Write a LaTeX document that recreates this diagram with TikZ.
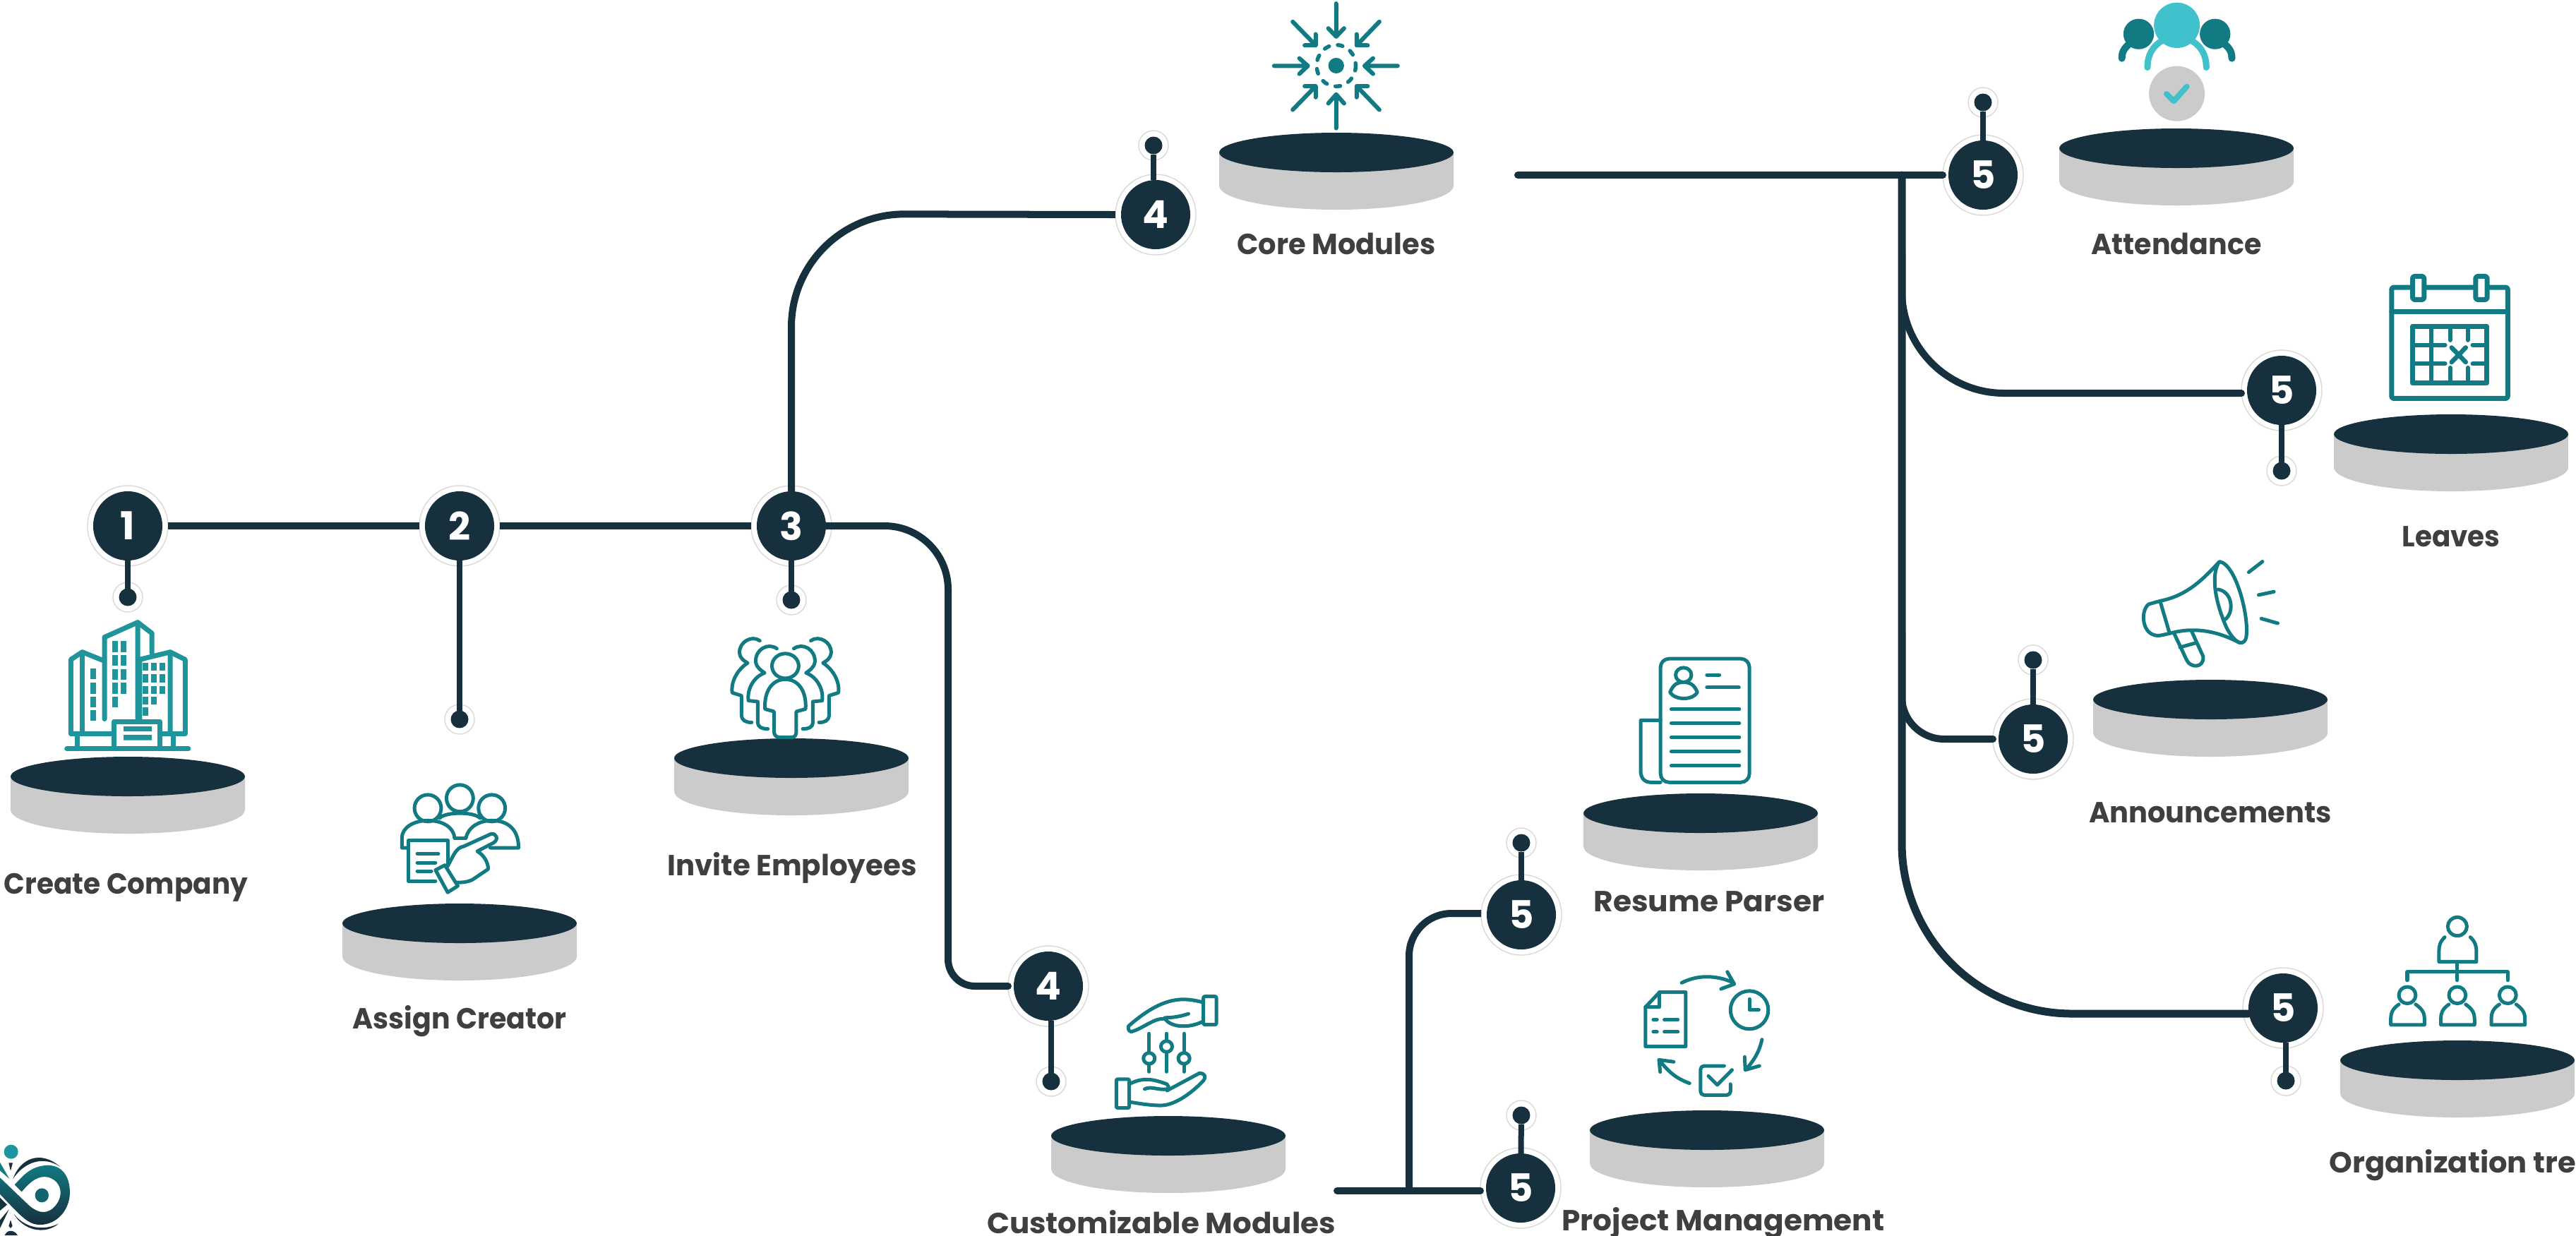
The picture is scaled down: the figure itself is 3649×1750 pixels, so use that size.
\documentclass[tikz,border=0pt]{standalone}
\usepackage{fontspec}
\setmainfont{Poppins}
\usetikzlibrary{calc}
\definecolor{navy}{HTML}{17303E}
\definecolor{discgrey}{HTML}{CBCBCB}
\definecolor{icteal}{HTML}{117A82}
\definecolor{bldteal}{HTML}{1F959B}
\definecolor{lightteal}{HTML}{40C1CB}
\definecolor{txtgrey}{HTML}{3F3F3F}
\newlength{\lblw}
\tikzset{
  zs/.style n args={4}{shift={(#1,#2)},x=0.01cm/#3,y=-0.01cm/#4},
  halo/.style={circle,draw=black!15,line width=0.4pt,fill=white,minimum size=1.14cm,inner sep=0pt,outer sep=0pt},
  dark/.style={circle,fill=navy,text=white,minimum size=0.98cm,inner sep=0pt,outer sep=0pt,font=\fontsize{15.5}{16}\selectfont\bfseries},
  dothalo/.style={circle,draw=black!15,line width=0.4pt,fill=white,minimum size=0.42cm,inner sep=0pt,outer sep=0pt},
  dotc/.style={circle,fill=navy,minimum size=0.25cm,inner sep=0pt,outer sep=0pt},
  conn/.style={draw=navy,line width=0.1cm,line cap=round},
  stem/.style={draw=navy,line width=0.08cm},
  ic/.style={draw=icteal,line width=0.05cm,line cap=round,line join=round},
  lbl/.style={anchor=base,text=txtgrey,inner sep=0pt,font=\fontsize{11.7}{12}\selectfont\bfseries},
}
\newcommand{\badge}[4]{\node[halo] (h#1) at (#2,#3) {};\node[dark] (b#1) at (#2,#3) {#4};}
\newcommand{\dotn}[3]{\node[dothalo] (dh#1) at (#2,#3) {};\node[dotc] (d#1) at (#2,#3) {};}
\newcommand{\disc}[2]{%
  \fill[discgrey] (#1-166,#2) -- (#1-166,#2+47) .. controls (#1-166,#2+66) and (#1-92,#2+81) .. (#1,#2+81) .. controls (#1+92,#2+81) and (#1+166,#2+66) .. (#1+166,#2+47) -- (#1+166,#2) -- cycle;
  \fill[navy] (#1-166,#2) .. controls (#1-166,#2-15) and (#1-92,#2-28) .. (#1,#2-28) .. controls (#1+92,#2-28) and (#1+166,#2-15) .. (#1+166,#2) .. controls (#1+166,#2+15) and (#1+92,#2+28) .. (#1,#2+28) .. controls (#1-92,#2+28) and (#1-166,#2+15) .. (#1-166,#2) -- cycle;}
\newcommand{\lab}[5]{\node[lbl] (#1) at (#2,#3) {\lblw=0.01cm \multiply\lblw by #4 \resizebox{\lblw}{\height}{#5}};}
\newcommand{\invside}{%
\draw[ic] (262,383) .. controls (240,370) and (208,385) .. (210,410) .. controls (212,422) and (225,428) .. (232,432) .. controls (205,440) and (188,465) .. (192,488) -- (215,490) -- (215,532) .. controls (216,542) and (225,545) .. (240,545);
\draw[ic] (220,367) .. controls (200,355) and (168,370) .. (170,392) .. controls (172,404) and (182,408) .. (190,412) .. controls (165,425) and (148,450) .. (152,472) -- (175,478) -- (175,518) .. controls (176,528) and (185,532) .. (200,532);}
\begin{document}
\begin{tikzpicture}[x=0.01cm,y=-0.01cm]
\path[use as bounding box,clip] (0,0) rectangle (3649,1750);
\fill[white] (0,0) rectangle (3649,1750);

% discs
\disc{181}{1100}
\disc{651}{1308}
\disc{1121}{1074}
\disc{1655}{1609}
\disc{1893}{216}
\disc{3083}{210}
\disc{3472}{615}
\disc{3131}{991}
\disc{3481}{1502}
\disc{2409}{1152}
\disc{2418}{1601}

% badges and end dots
\badge{1}{181}{745}{1}
\badge{2}{651}{745}{2}
\badge{3}{1121}{745}{3}
\badge{4b}{1485}{1397}{4}
\badge{4t}{1637}{304}{4}
\badge{5a}{2809}{248}{5}
\badge{5b}{3232}{553}{5}
\badge{5c}{2880}{1047}{5}
\badge{5d}{3234}{1428}{5}
\badge{5e}{2155}{1296}{5}
\badge{5f}{2154}{1683}{5}
\dotn{1}{181}{846}
\dotn{2}{651}{1019}
\dotn{3}{1121}{850}
\dotn{4b}{1489}{1532}
\dotn{4t}{1634}{206}
\dotn{5a}{2809}{145}
\dotn{5b}{3232}{667}
\dotn{5c}{2880}{935}
\dotn{5d}{3238}{1531}
\dotn{5e}{2155}{1194}
\dotn{5f}{2155}{1580}

% stems
\draw[stem] (d1) -- (b1);
\draw[stem] (d2) -- (b2);
\draw[stem] (d3) -- (b3);
\draw[stem] (d4b) -- (d4b |- b4b.south);
\draw[stem] (d4t) -- (d4t |- b4t.north);
\draw[stem] (d5a) -- (b5a);
\draw[stem] (d5b) -- (b5b);
\draw[stem] (d5c) -- (b5c);
\draw[stem] (d5d) -- (d5d |- b5d.south);
\draw[stem] (d5e) -- (b5e);
\draw[stem] (d5f) -- (b5f);

% connectors
\coordinate (k3t) at (1121,303);
\coordinate (k3r) at (1343,745);
\coordinate (k3m) at (1343,1000);
\coordinate (k4b) at (1343,1397);
\coordinate (cs) at (2150,248);
\coordinate (jt) at (2694,248);
\coordinate (jl) at (2694,557);
\coordinate (ja) at (2694,1047);
\coordinate (jo) at (2694,1436);
\coordinate (cm) at (1894,1687);
\coordinate (jm) at (1996,1687);
\coordinate (jr) at (1996,1294);
\draw[conn,line cap=butt] (h1) -- (h2);
\draw[conn,line cap=butt] (h2) -- (h3);
\draw[conn,rounded corners=1.6cm,line cap=butt] (b3.north) -- (k3t) -- (h4t.west);
\draw[conn,rounded corners=0.9cm,line cap=butt] (b3.east) -- (k3r) -- (k3m);
\draw[conn,rounded corners=0.38cm] (k3m) -- (k4b) -- (h4b.west);
\draw[conn] (cs) -- (cs -| h5a.west);
\draw[conn,line width=0.11cm,rounded corners=2.41cm] (jt) -- (jo) -- (jo -| b5d.west);
\draw[conn,rounded corners=1.45cm] ($(jl)+(0,-200)$) -- (jl) -- (jl -| h5b.west);
\draw[conn,rounded corners=0.6cm] ($(ja)+(0,-150)$) -- (ja) -- (ja -| h5c.west);
\draw[conn] (cm) -- (cm -| h5f.west);
\draw[conn,line cap=butt,rounded corners=0.6cm] (jm) -- (jr) -- (jr -| h5e.west);

% labels
\lab{t1}{178.5}{1266}{345}{Create Company}
\lab{t2}{651}{1457}{303}{Assign Creator}
\lab{t3}{1122}{1240}{353}{Invite Employees}
\lab{t4}{1645}{1747}{494}{Customizable Modules}
\lab{t5}{1893}{360}{281}{Core Modules}
\lab{t6}{3083}{360}{241}{Attendance}
\lab{t7}{3472}{774}{139}{Leaves}
\lab{t8}{3131}{1165}{344}{Announcements}
\lab{t9}{2421}{1291}{327}{Resume Parser}
\lab{t10}{2441}{1743}{457}{Project Management}
\node[lbl,anchor=base west] (t11) at (3299,1661) {\resizebox{3.75cm}{\height}{Organization tree}};

% building icon
\begin{scope}[zs={0}{650}{1.742}{1.425}]
\begin{scope}[draw=bldteal,line width=0.07cm,line cap=round,line join=round]
\draw (165,585) -- (465,585);
\draw (258,525) -- (258,360) -- (340,330) -- (340,525);
\draw (340,330) -- (375,352) -- (375,392);
\draw (280,555) -- (175,555) -- (175,405) -- (203,390) -- (255,407);
\draw (203,390) -- (203,555);
\draw (345,525) -- (345,405) -- (420,390) -- (420,555);
\draw (420,390) -- (457,405) -- (457,555) -- (400,555);
\draw (282,582) -- (282,530) -- (395,530) -- (395,582);
\draw (190,560) -- (190,585);
\draw (428,560) -- (428,585);
\end{scope}
\fill[bldteal] (305,540) rectangle (375,550) (305,557) rectangle (375,568);
\foreach \y in {368,396,424,452,480} \fill[bldteal] (277,\y) rectangle +(14,22);
\foreach \y in {368,396,424,452} \fill[bldteal] (298,\y) rectangle +(14,22);
\foreach \y in {423,452,480,507} \fill[bldteal] (223,\y) rectangle +(14,22);
\foreach \y in {412,435,458,480,502} \fill[bldteal] (352,\y) rectangle +(14,16);
\foreach \y in {412,435,458,480} \fill[bldteal] (373,\y) rectangle +(14,16);
\foreach \y in {412,435,458} \fill[bldteal] (394,\y) rectangle +(14,16);
% assign creator icon
\draw[ic] (1135,685) ellipse [x radius=33,y radius=27];
\draw[ic] (1056,705) ellipse [x radius=33,y radius=27];
\draw[ic] (1214,705) ellipse [x radius=33,y radius=27];
\draw[ic] (1005,785) -- (992,785) -- (992,765) .. controls (992,745) and (1020,730) .. (1056,730) .. controls (1095,730) and (1120,745) .. (1122,765);
\draw[ic] (1150,765) .. controls (1155,745) and (1180,730) .. (1214,730) .. controls (1250,730) and (1280,745) .. (1280,785) -- (1210,785);
\draw[ic] (1085,725) .. controls (1100,712) and (1170,712) .. (1185,725);
\draw[ic] (1075,852) -- (1008,852) -- (1008,770) -- (1105,770) -- (1105,820);
\draw[ic] (1030,797) -- (1082,797) (1030,815) -- (1075,815) (1030,832) -- (1065,832);
\draw[ic] (1122,765) -- (1150,765);
\draw[ic] (1105,822) .. controls (1120,800) and (1125,785) .. (1145,782) -- (1212,757) .. controls (1225,755) and (1232,768) .. (1218,775) -- (1178,792) .. controls (1195,800) and (1205,815) .. (1205,828) -- (1165,850) .. controls (1150,855) and (1140,855) .. (1128,855);
\draw[ic] (1075,830) -- (1098,820) -- (1130,862) -- (1105,875) -- cycle;
\end{scope}

% logo
\begin{scope}[zs={0}{1600}{3}{3}]
\fill[bldteal] (47,95) ellipse [x radius=30,y radius=30];
\fill[icteal!70!navy] (178,280) ellipse [x radius=29,y radius=30];
\fill[navy] (37,142) -- (54,142) -- (45,176) -- cycle;
\shade[top color=icteal,bottom color=navy] (62,235) .. controls (100,195) and (130,155) .. (205,152) .. controls (270,155) and (297,205) .. (297,270) .. controls (295,345) and (240,405) .. (170,405) .. controls (120,405) and (90,370) .. (0,275) -- (0,205) -- (115,315) .. controls (150,350) and (190,365) .. (225,335) .. controls (275,290) and (265,220) .. (205,203) .. controls (165,195) and (135,215) .. (92,265) -- cycle;
\fill[navy] (55,210) .. controls (85,125) and (170,85) .. (255,158) .. controls (190,115) and (110,130) .. cycle;
\fill[navy] (0,290) -- (30,320) -- (0,345) -- cycle;
\fill[icteal] (0,140) -- (40,210) -- (0,175) -- cycle;
\fill[navy] (38,340) -- (0,420) -- (0,385) -- cycle;
\fill[navy] (45,385) -- (53,410) -- (45,420) -- (37,410) -- cycle;
\fill[navy] (58,358) .. controls (100,430) and (190,450) .. (250,400) .. controls (190,430) and (110,425) .. cycle;
\fill[navy] (20,450) .. controls (30,425) and (60,425) .. (75,450) -- cycle;
\end{scope}

% invite, customizable icons
\begin{scope}[zs={950}{650}{1.742}{1.425}]
\draw[ic] (283,418) ellipse [x radius=33,y radius=25];
\draw[ic] (283,445) .. controls (250,445) and (230,470) .. (233,505) -- (255,510) -- (255,550) .. controls (256,560) and (262,562) .. (270,562) -- (297,562) .. controls (305,562) and (310,560) .. (310,550) -- (310,510) -- (333,505) .. controls (336,470) and (316,445) .. (283,445);
\invside
\begin{scope}[shift={(566,0)},xscale=-1]\invside\end{scope}
% hands
\draw[ic,rounded corners=0.02cm] (1315,1085) rectangle (1347,1142);
\draw[ic,rounded corners=0.02cm] (1100,1252) rectangle (1132,1310);
\draw[ic] (1315,1097) .. controls (1270,1088) and (1220,1080) .. (1130,1145) .. controls (1128,1155) and (1135,1158) .. (1142,1155) .. controls (1170,1147) and (1195,1128) .. (1220,1130) .. controls (1235,1148) and (1280,1150) .. (1315,1135);
\draw[ic] (1220,1128) .. controls (1240,1128) and (1260,1125) .. (1278,1120);
\draw[ic] (1132,1262) .. controls (1170,1245) and (1200,1255) .. (1225,1262) .. controls (1232,1268) and (1228,1275) .. (1225,1275) -- (1305,1240) .. controls (1320,1240) and (1322,1248) .. (1315,1255) .. controls (1280,1285) and (1240,1305) .. (1210,1305) .. controls (1180,1305) and (1150,1300) .. (1132,1298);
\draw[ic] (1170,1272) .. controls (1185,1265) and (1205,1275) .. (1225,1272);
\foreach \x in {1181,1267}{
\draw[ic] (\x,1160) -- (\x,1198) (\x,1222) -- (\x,1237);
\draw[ic] (\x,1210) ellipse [x radius=14,y radius=11];}
\draw[ic] (1224,1160) -- (1224,1174) (1224,1198) -- (1224,1237);
\draw[ic] (1224,1186) ellipse [x radius=14,y radius=11];
\end{scope}

% core icon
\begin{scope}[zs={1500}{0}{2.24}{2.99}]
\fill[icteal] (880,278) ellipse [x radius=25,y radius=33];
\draw[ic,line width=0.055cm,dash pattern=on 0.07cm off 0.125cm] (880,278) ellipse [x radius=62,y radius=88];
\begin{scope}[ic/.append style={line width=0.06cm}]
\draw[ic] (880,15) -- (880,155) (855,120) -- (880,155) -- (905,120);
\draw[ic] (880,543) -- (880,400) (855,438) -- (880,400) -- (905,438);
\draw[ic] (683,279) -- (785,279) (763,247) -- (790,279) -- (763,313);
\draw[ic] (1075,279) -- (972,279) (997,247) -- (970,279) -- (997,313);
\draw[ic] (742,92) -- (815,192) (815,145) -- (815,192) -- (780,192);
\draw[ic] (1017,92) -- (945,192) (945,145) -- (945,192) -- (980,192);
\draw[ic] (742,465) -- (815,365) (815,412) -- (815,365) -- (780,365);
\draw[ic] (1017,465) -- (945,365) (945,412) -- (945,365) -- (980,365);
\end{scope}
\end{scope}

% resume, project icons
\begin{scope}[zs={2150}{850}{2.24}{1.742}]
\draw[ic,rounded corners=0.12cm] (453,450) -- (453,145) -- (735,145) -- (735,450) -- cycle;
\draw[ic] (453,297) -- (390,297) -- (390,425) .. controls (392,442) and (405,450) .. (420,450) -- (453,450);
\draw[ic] (526,185) ellipse [x radius=25,y radius=18];
\draw[ic] (483,228) .. controls (495,205) and (510,203) .. (526,203) .. controls (545,203) and (560,208) .. (570,228) .. controls (555,248) and (500,248) .. (483,228) -- cycle;
\draw[ic] (600,185) -- (640,185) (600,216) -- (702,216);
\foreach \y in {270,304,339,374,409} \draw[ic] (487,\y) -- (703,\y);
\draw[ic] (405,1005) -- (450,968) -- (533,968) -- (533,1102) -- (405,1102) -- cycle;
\draw[ic] (450,968) -- (450,1005) -- (405,1005);
\draw[ic] (430,1036) -- (442,1036) (465,1036) -- (508,1036) (430,1066) -- (442,1066) (465,1066) -- (508,1066);
\draw[ic] (735,1012) ellipse [x radius=60,y radius=47];
\draw[ic] (735,985) -- (735,1012) -- (765,1012);
\draw[ic,rounded corners=0.05cm] (655,1150) -- (580,1150) -- (580,1222) -- (675,1222) -- (675,1195);
\draw[ic] (605,1175) -- (633,1197) -- (680,1160);
\draw[ic] (520,945) .. controls (570,925) and (630,925) .. (685,945) (665,918) -- (687,948) -- (645,960);
\draw[ic] (775,1085) .. controls (765,1120) and (745,1140) .. (725,1158) (720,1128) -- (722,1160) -- (767,1150);
\draw[ic] (545,1193) .. controls (500,1180) and (480,1165) .. (450,1137) (452,1165) -- (448,1135) -- (495,1140);
\end{scope}

% attendance, calendar icons
\begin{scope}[zs={2800}{0}{1.847}{2.178}]
\draw[icteal,line width=0.1cm,line cap=round] (380,180) .. controls (380,155) and (390,145) .. (405,130);
\draw[icteal,line width=0.1cm,line cap=round] (668,180) .. controls (668,155) and (658,145) .. (643,130);
\fill[icteal] (424,105) ellipse [x radius=40,y radius=47];
\fill[icteal] (624,105) ellipse [x radius=40,y radius=47];
\draw[lightteal,line width=0.09cm,line cap=round] (447,208) .. controls (447,165) and (465,135) .. (495,120);
\draw[lightteal,line width=0.09cm,line cap=round] (601,208) .. controls (601,165) and (583,135) .. (553,120);
\fill[lightteal] (524,78) ellipse [x radius=60,y radius=70];
\fill[discgrey] (524,289) ellipse [x radius=73,y radius=85];
\draw[lightteal,line width=0.08cm,line cap=round,line join=round] (497,290) -- (516,312) -- (550,267);
\draw[ic,line width=0.07cm,rounded corners=0.03cm] (1086,887) rectangle (1390,1230);
\draw[ic,line width=0.07cm] (1086,962) -- (1390,962);
\draw[ic,line width=0.07cm,rounded corners=0.03cm,fill=white] (1141,853) rectangle (1171,925);
\draw[ic,line width=0.07cm,rounded corners=0.03cm,fill=white] (1306,853) rectangle (1336,925);
\draw[ic,line width=0.07cm,line cap=butt] (1141,1007) rectangle (1335,1183);
\draw[ic,line width=0.06cm] (1190,1007) -- (1190,1183);
\draw[ic,line width=0.06cm] (1239,1007) -- (1239,1050) (1239,1135) -- (1239,1183) (1285,1007) -- (1285,1050) (1285,1135) -- (1285,1183);
\draw[ic,line width=0.06cm] (1141,1065) -- (1226,1065) (1298,1065) -- (1335,1065) (1141,1123) -- (1226,1123) (1298,1123) -- (1335,1123);
\draw[ic,line width=0.065cm] (1243,1073) -- (1280,1118) (1280,1073) -- (1243,1118);
\end{scope}

% megaphone, tree icons
\begin{scope}[zs={2800}{720}{1.847}{1.522}]
\draw[ic] (635,115) .. controls (615,140) and (620,190) .. (650,250) .. controls (665,280) and (695,305) .. (705,280) .. controls (715,240) and (680,120) .. (635,115) -- cycle;
\draw[ic] (632,118) .. controls (580,165) and (540,190) .. (480,200) -- (450,207) .. controls (430,220) and (432,262) .. (460,272) .. controls (475,278) and (490,272) .. (505,270) .. controls (570,255) and (630,265) .. (688,290);
\draw[ic] (480,200) -- (505,270);
\draw[ic] (518,272) -- (550,328) .. controls (560,345) and (595,345) .. (593,320) -- (563,266);
\draw[ic] (532,300) -- (575,290);
\draw[ic] (632,175) .. controls (670,180) and (675,225) .. (650,240);
\draw[ic] (712,138) -- (748,115) (738,187) -- (778,180) (745,238) -- (788,248);
\draw[ic] (1258,902) ellipse [x radius=25,y radius=20];
\draw[ic] (1225,925) .. controls (1212,935) and (1210,945) .. (1210,955) -- (1210,978) -- (1308,978) -- (1308,955) .. controls (1308,945) and (1305,935) .. (1292,925);
\draw[ic] (1258,980) -- (1258,1018) (1127,1018) -- (1127,1000) -- (1390,1000) -- (1390,1018);
\foreach \x in {1127,1258,1390}{
\draw[ic] (\x,1050) ellipse [x radius=22,y radius=18];
\draw[ic] (\x-22,1070) .. controls (\x-40,1080) and (\x-43,1090) .. (\x-43,1100) -- (\x-43,1114) -- (\x+45,1114) -- (\x+45,1100) .. controls (\x+45,1090) and (\x+40,1080) .. (\x+22,1070);}
\end{scope}
\end{tikzpicture}
\end{document}
